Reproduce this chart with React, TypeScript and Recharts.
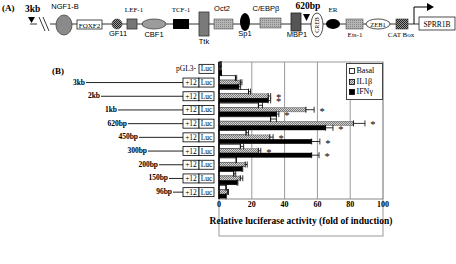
import { BarChart, Bar, XAxis, YAxis, CartesianGrid, ErrorBar, Legend } from "recharts";

const CONSTRUCTS = ["pGL3", "3kb", "2kb", "1kb", "620bp", "450bp", "300bp", "200bp", "150bp", "96bp"];
const BASAL = [1.2, 10, 18, 24, 31.5, 16.5, 13, 10.5, 9, 4.3];
const BASAL_ERR = [0, 0.8, 1.2, 2.5, 3.5, 1.5, 2, 0, 1.2, 0];
const IL1B = [1.2, 13, 30, 53, 82, 31, 24, 16, 13, 5.3];
const IL1B_ERR = [0, 1, 1.5, 5, 7, 2, 1.5, 1.2, 1.5, 0.5];
const IFNG = [1.5, 12, 30, 35, 65, 56.5, 56.5, 14, 11, 4.3];
const IFNG_ERR = [0, 1.2, 1.5, 1.5, 4.5, 5, 4.5, 0.5, 0.5, 0];
// significance marks (1 = asterisk)
const IL1B_STAR = [0, 0, 1, 1, 1, 1, 1, 0, 0, 0];
const IFNG_STAR = [0, 0, 1, 1, 1, 1, 1, 0, 0, 0];
const X_TICKS = [0, 20, 40, 60, 80, 100];

// where the promoter line of each construct begins (diagram decoration)
const LINE_START: Record<string, number> = {
  "3kb": 86, "2kb": 101, "1kb": 118, "620bp": 128, "450bp": 139,
  "300bp": 148, "200bp": 159, "150bp": 169, "96bp": 173,
};

const SERIF = "'Liberation Serif', 'Times New Roman', serif";
const SANS = "'Liberation Sans', Arial, sans-serif";

const data = CONSTRUCTS.map((name, i) => ({
  name,
  basal: BASAL[i],
  basalErr: [0, BASAL_ERR[i]],
  il1b: IL1B[i],
  il1bErr: [0, IL1B_ERR[i]],
  ifng: IFNG[i],
  ifngErr: [0, IFNG_ERR[i]],
  il1bStar: IL1B_STAR[i],
  ifngStar: IFNG_STAR[i],
}));

function makeShape(valKey: string, errKey: string, starKey?: string) {
  return (props: any) => {
    const { x, y, width, height, fill, stroke, strokeWidth, payload } = props;
    const val = payload[valKey];
    const err = payload[errKey][1];
    const pxPer = val > 0 ? width / val : 0;
    const starX = x + width + err * pxPer + 8;
    return (
      <g>
        <rect x={x} y={y} width={Math.max(width, 0)} height={height} fill={fill} stroke={stroke} strokeWidth={strokeWidth} />
        {starKey && payload[starKey] ? (
          <text x={starX} y={y + height / 2 + 5} textAnchor="middle" fontFamily={SERIF} fontSize={10.5} fill="#000">*</text>
        ) : null}
      </g>
    );
  };
}

function ConstructTick(props: any) {
  const { y, payload } = props;
  const name = payload.value as string;
  if (name === "pGL3") {
    return (
      <g fontFamily={SERIF}>
        <text x={196} y={y + 2.5} textAnchor="end" fontSize={7.5} fill="#000">pGL3-</text>
        <rect x={199} y={y - 4.5} width={15} height={9} fill="#fff" stroke="#000" strokeWidth={0.8} />
        <text x={206.5} y={y + 2.5} textAnchor="middle" fontSize={7.5} fill="#000">Luc</text>
      </g>
    );
  }
  const start = LINE_START[name];
  return (
    <g fontFamily={SERIF}>
      <text x={start - 1} y={y + 2} textAnchor="end" fontSize={7.5} fontWeight="bold" fill="#000">{name}</text>
      <line x1={start} x2={183} y1={y} y2={y} stroke="#222" strokeWidth={1} />
      <rect x={183} y={y - 4.5} width={16} height={9} fill="#fff" stroke="#000" strokeWidth={0.8} />
      <rect x={199} y={y - 4.5} width={15} height={9} fill="#fff" stroke="#000" strokeWidth={0.8} />
      <text x={191} y={y + 2.5} textAnchor="middle" fontSize={7.5} fill="#000">+12</text>
      <text x={206.5} y={y + 2.5} textAnchor="middle" fontSize={7.5} fill="#000">Luc</text>
    </g>
  );
}

function LegendBox() {
  const items = [
    { label: "Basal", fill: "#fff" },
    { label: "IL1β", fill: "url(#il1bPat)" },
    { label: "IFNγ", fill: "#000" },
  ];
  return (
    <div style={{ width: 37, height: 37, border: "1px solid #444", background: "#fff", boxSizing: "border-box", paddingTop: 2 }}>
      {items.map((it) => (
        <div key={it.label} style={{ display: "flex", alignItems: "center", height: 10.5, paddingLeft: 2 }}>
          <svg width={6} height={6} style={{ marginRight: 1.5 }}>
            <rect x={0.5} y={0.5} width={5} height={5} fill={it.fill} stroke="#000" strokeWidth={0.8} />
          </svg>
          <span style={{ fontFamily: SERIF, fontSize: 8, color: "#000", lineHeight: "10px" }}>{it.label}</span>
        </div>
      ))}
    </div>
  );
}

function PromoterMap() {
  const lbl = { fontSize: 7.5, fill: "#000" } as const;
  return (
    <svg width={456} height={60} style={{ position: "absolute", left: 0, top: 0 }}>
      <defs>
        <pattern id="il1bPat" width={2} height={2} patternUnits="userSpaceOnUse">
          <rect width={2} height={2} fill="#d2d2d2" />
          <rect width={1} height={1} fill="#7a7a7a" />
          <rect x={1} y={1} width={1} height={1} fill="#7a7a7a" />
        </pattern>
        <pattern id="darkCheck" width={2} height={2} patternUnits="userSpaceOnUse">
          <rect width={2} height={2} fill="#9a9a9a" />
          <rect width={1} height={1} fill="#222" />
          <rect x={1} y={1} width={1} height={1} fill="#222" />
        </pattern>
        <pattern id="lightDots" width={2} height={2} patternUnits="userSpaceOnUse">
          <rect width={2} height={2} fill="#b4b4b4" />
          <rect width={1} height={1} fill="#888" />
        </pattern>
      </defs>
      <line x1={30} x2={419} y1={24} y2={24} stroke="#333" strokeWidth={1} />
      <rect x={37} y={16} width={13} height={16} fill="#fff" />
      <line x1={39} y1={17} x2={45} y2={31} stroke="#222" strokeWidth={0.9} />
      <line x1={43} y1={17} x2={49} y2={31} stroke="#222" strokeWidth={0.9} />
      <text x={2} y={11} fontFamily={SERIF} fontWeight="bold" fontSize={9} fill="#000">(A)</text>
      <text x={25} y={12} fontFamily={SERIF} fontWeight="bold" fontSize={9.5} fill="#000">3kb</text>
      <polygon points="28,17 35,17 31.5,23" fill="#000" />

      <g fontFamily={SANS}>
        <text x={65} y={9} textAnchor="middle" {...lbl}>NGF1-B</text>
        <ellipse cx={64} cy={25} rx={8} ry={10} fill="#8a8a8a" stroke="#444" strokeWidth={0.8} />
        <circle cx={117} cy={24} r={5} fill="url(#darkCheck)" stroke="#333" strokeWidth={0.6} />
        <text x={118} y={36} textAnchor="middle" {...lbl}>GF11</text>
        <ellipse cx={154} cy={24} rx={12} ry={5} fill="#9c9c9c" stroke="#444" strokeWidth={0.8} />
        <text x={154} y={37} textAnchor="middle" {...lbl}>CBF1</text>
        <rect x={199} y={12} width={10} height={24} fill="#7a7a7a" stroke="#333" strokeWidth={0.8} />
        <text x={204} y={44} textAnchor="middle" {...lbl}>Ttk</text>
        <rect x={214} y={19} width={19} height={10} fill="url(#lightDots)" stroke="#555" strokeWidth={0.6} />
        <text x={222} y={11} textAnchor="middle" {...lbl}>Oct2</text>
        <ellipse cx={245} cy={22} rx={5} ry={9} fill="#000" />
        <text x={245} y={36} textAnchor="middle" {...lbl}>Sp1</text>
        <rect x={260} y={18} width={21} height={10} fill="url(#lightDots)" stroke="#555" strokeWidth={0.6} />
        <text x={266} y={11} textAnchor="middle" {...lbl}>C/EBPβ</text>
        <rect x={291} y={13} width={10} height={18} fill="#555" stroke="#222" strokeWidth={0.8} />
        <text x={297} y={37} textAnchor="middle" {...lbl}>MBP1</text>
      </g>

      <g fontFamily={SERIF}>
        <rect x={77} y={20} width={25} height={9} fill="#fff" stroke="#222" strokeWidth={0.8} />
        <text x={89.5} y={27.5} textAnchor="middle" fontSize={7} fill="#000">FOXF2</text>
        <rect x={127} y={19} width={10} height={10} fill="#777" stroke="#333" strokeWidth={0.8} />
        <text x={134} y={12} textAnchor="middle" fontSize={7} fill="#000">LEF-1</text>
        <rect x={173} y={19} width={16} height={10} fill="#000" />
        <text x={181} y={12} textAnchor="middle" fontSize={7} fill="#000">TCF-1</text>
        <text x={308} y={9} textAnchor="middle" fontWeight="bold" fontSize={9.5} fill="#000">620bp</text>
        <polygon points="303,14 310,14 306.5,21" fill="#000" />
        <ellipse cx={317} cy={25} rx={6} ry={12} fill="#fff" stroke="#222" strokeWidth={0.8} />
        <text x={317} y={25} transform="rotate(-90 317 25)" textAnchor="middle" dominantBaseline="central" fontSize={6} fill="#000">CREB</text>
        <ellipse cx={333} cy={24} rx={7} ry={5} fill="#000" />
        <text x={333} y={12} textAnchor="middle" fontSize={7} fill="#000">ER</text>
        <rect x={346} y={19} width={17} height={10} fill="url(#lightDots)" stroke="#555" strokeWidth={0.6} />
        <text x={355} y={37} textAnchor="middle" fontSize={7} fill="#000">Ets-1</text>
        <ellipse cx={378} cy={24} rx={12} ry={5} fill="#fff" stroke="#222" strokeWidth={0.8} />
        <text x={378} y={26.5} textAnchor="middle" fontSize={6.5} fill="#000">ZEB1</text>
        <rect x={396} y={19} width={12} height={10} fill="url(#darkCheck)" stroke="#333" strokeWidth={0.6} />
        <text x={401} y={37} textAnchor="middle" fontSize={7} fill="#000">CAT Box</text>
        <path d="M414 24 V7 H428" fill="none" stroke="#000" strokeWidth={1} />
        <polygon points="427,3 434,7 427,11" fill="#000" />
        <rect x={419} y={17} width={36} height={13} fill="#fff" stroke="#222" strokeWidth={0.8} />
        <text x={437} y={26.5} textAnchor="middle" fontSize={7.5} fill="#000">SPRR1B</text>
      </g>
    </svg>
  );
}

export default function App() {
  return (
    <div style={{ position: "absolute", left: 0, top: 0, width: 456, height: 264, background: "#fff" }}>
      <BarChart
        width={456}
        height={264}
        data={data}
        layout="vertical"
        margin={{ top: 62, right: 73, bottom: 0, left: 0 }}
        barGap={0}
        barSize={4.4}
      >
        <CartesianGrid horizontal={false} vertical stroke="#9a9a9a" strokeWidth={1} />
        <rect x={219} y={62} width={164} height={174} fill="none" stroke="#9a9a9a" />
        <XAxis
          type="number"
          domain={[0, 100]}
          ticks={X_TICKS}
          height={28}
          tickLine={false}
          axisLine={{ stroke: "#888" }}
          tickSize={0}
          tickMargin={2}
          tick={{ fontFamily: SERIF, fontWeight: "bold", fontSize: 8, fill: "#000" }}
          label={{
            value: "Relative luciferase activity (fold of induction)",
            position: "insideBottom",
            offset: 3,
            style: { fontFamily: SERIF, fontWeight: "bold", fontSize: 9.5, fill: "#000" },
          }}
        />
        <YAxis
          type="category"
          dataKey="name"
          width={219}
          tickLine={false}
          axisLine={{ stroke: "#000", strokeWidth: 1.5 }}
          tick={<ConstructTick />}
          interval={0}
        />
        <Legend
          content={() => <LegendBox />}
          wrapperStyle={{ position: "absolute", left: 346, top: 63, width: 37, height: 37 }}
        />
        <Bar dataKey="basal" name="Basal" fill="#fff" stroke="#000" strokeWidth={0.7} isAnimationActive={false}
          shape={makeShape("basal", "basalErr")}>
          <ErrorBar dataKey="basalErr" direction="x" width={3} stroke="#000" strokeWidth={0.8} />
        </Bar>
        <Bar dataKey="il1b" name="IL1β" fill="url(#il1bPat)" stroke="#555" strokeWidth={0.4} isAnimationActive={false}
          shape={makeShape("il1b", "il1bErr", "il1bStar")}>
          <ErrorBar dataKey="il1bErr" direction="x" width={3} stroke="#000" strokeWidth={0.8} />
        </Bar>
        <Bar dataKey="ifng" name="IFNγ" fill="#000" stroke="#000" strokeWidth={0.4} isAnimationActive={false}
          shape={makeShape("ifng", "ifngErr", "ifngStar")}>
          <ErrorBar dataKey="ifngErr" direction="x" width={3} stroke="#000" strokeWidth={0.8} />
        </Bar>
      </BarChart>
      <PromoterMap />
      <div style={{ position: "absolute", left: 52, top: 66, fontFamily: SERIF, fontWeight: "bold", fontSize: 9, color: "#000" }}>(B)</div>
    </div>
  );
}
